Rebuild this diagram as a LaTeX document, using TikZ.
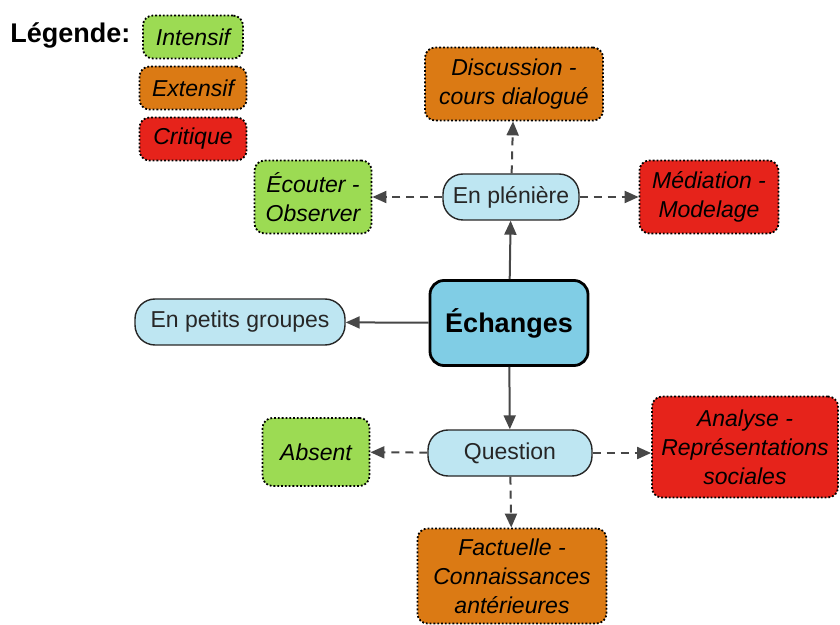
\documentclass[tikz,border=0pt]{standalone}
\usepackage{fontspec}
\setmainfont{Liberation Sans}
\usetikzlibrary{arrows.meta}
\definecolor{vertint}{HTML}{9CDB53}
\definecolor{orangeext}{HTML}{DB7A14}
\definecolor{rougecrit}{HTML}{E6231B}
\definecolor{bleuclair}{HTML}{BEE6F2}
\definecolor{bleuech}{HTML}{80CDE5}
\definecolor{grisfleche}{HTML}{474747}
\tikzset{
  box/.style={draw=black, densely dotted, line width=0.9pt, rounded corners=5pt, align=center,
    inner sep=1pt, font=\fontsize{11.5}{14.5}\selectfont\itshape},
  intensif/.style={box, fill=vertint},
  extensif/.style={box, fill=orangeext},
  critique/.style={box, fill=rougecrit},
  branche/.style={draw=black!85, line width=0.7pt, rounded corners=10pt, fill=bleuclair,
    minimum height=23pt, text=black!85, font=\fontsize{11.5}{14}\selectfont},
  central/.style={draw=black, line width=1.4pt, rounded corners=7pt, fill=bleuech,
    minimum width=79pt, minimum height=42.5pt, font=\fontsize{13.5}{16}\selectfont\bfseries},
  plein/.style={draw=grisfleche, line width=1pt, -{Triangle[length=7pt,width=6pt]}},
  tirets/.style={plein, dash pattern=on 4pt off 3pt},
}
\begin{document}
\begin{tikzpicture}[x=0.5pt, y=-0.5pt]
	%%%%% START %%%%%
	\useasboundingbox (0, 0) rectangle (840, 625);
	
	% legende
	\node[anchor=west, inner sep=0pt, font=\fontsize{13.5}{16}\selectfont\bfseries] (leg) at (10, 35) {Légende:};
	\node[intensif, minimum width=50pt, minimum height=21.5pt] (lint) at (193, 37) {Intensif};
	\node[extensif, minimum width=53.5pt, minimum height=21.5pt] (lext) at (193, 88) {Extensif};
	\node[critique, minimum width=53.5pt, minimum height=21.5pt] (lcrit) at (193, 139) {Critique};
	
	% centre et branches
	\node[central] (ech) at (509, 323) {Échanges};
	\node[branche, minimum width=68pt] (plen) at (511, 197) {En plénière};
	\node[branche, minimum width=105pt] (petits) at (240, 322) {En petits groupes};
	\node[branche, minimum width=82pt] (quest) at (510, 453) {Question};
	
	% feuilles
	\node[extensif, minimum width=89pt, minimum height=36.5pt] (disc) at (514, 84) {Discussion -\\cours dialogué};
	\node[intensif, minimum width=58.5pt, minimum height=36.5pt] (ecout) at (313, 197) {Écouter -\\Observer};
	\node[critique, minimum width=69.5pt, minimum height=36.5pt] (medi) at (709, 197) {Médiation -\\Modelage};
	\node[intensif, minimum width=53.5pt, minimum height=34pt] (abs) at (316, 452) {Absent};
	\node[critique, minimum width=93pt, minimum height=50.5pt] (anal) at (745, 447) {Analyse -\\Représentations\\sociales};
	\node[extensif, minimum width=94.5pt, minimum height=47.5pt] (fact) at (512, 576) {Factuelle -\\Connaissances\\antérieures};
	
	% fleches
	\draw[plein] (ech) -- (plen);
	\draw[plein] (ech) -- (petits);
	\draw[plein] (ech) -- (quest);
	
	\draw[tirets] (plen) -- (disc);
	\draw[tirets] (plen) -- (ecout);
	\draw[tirets] (plen) -- (medi);
	
	\draw[tirets] (quest) -- (abs);
	\draw[tirets] (quest.east) -- (quest.east -| anal.west);
	\draw[tirets] (quest) -- (fact);
	%%%%% END %%%%%
\end{tikzpicture}
\end{document}
